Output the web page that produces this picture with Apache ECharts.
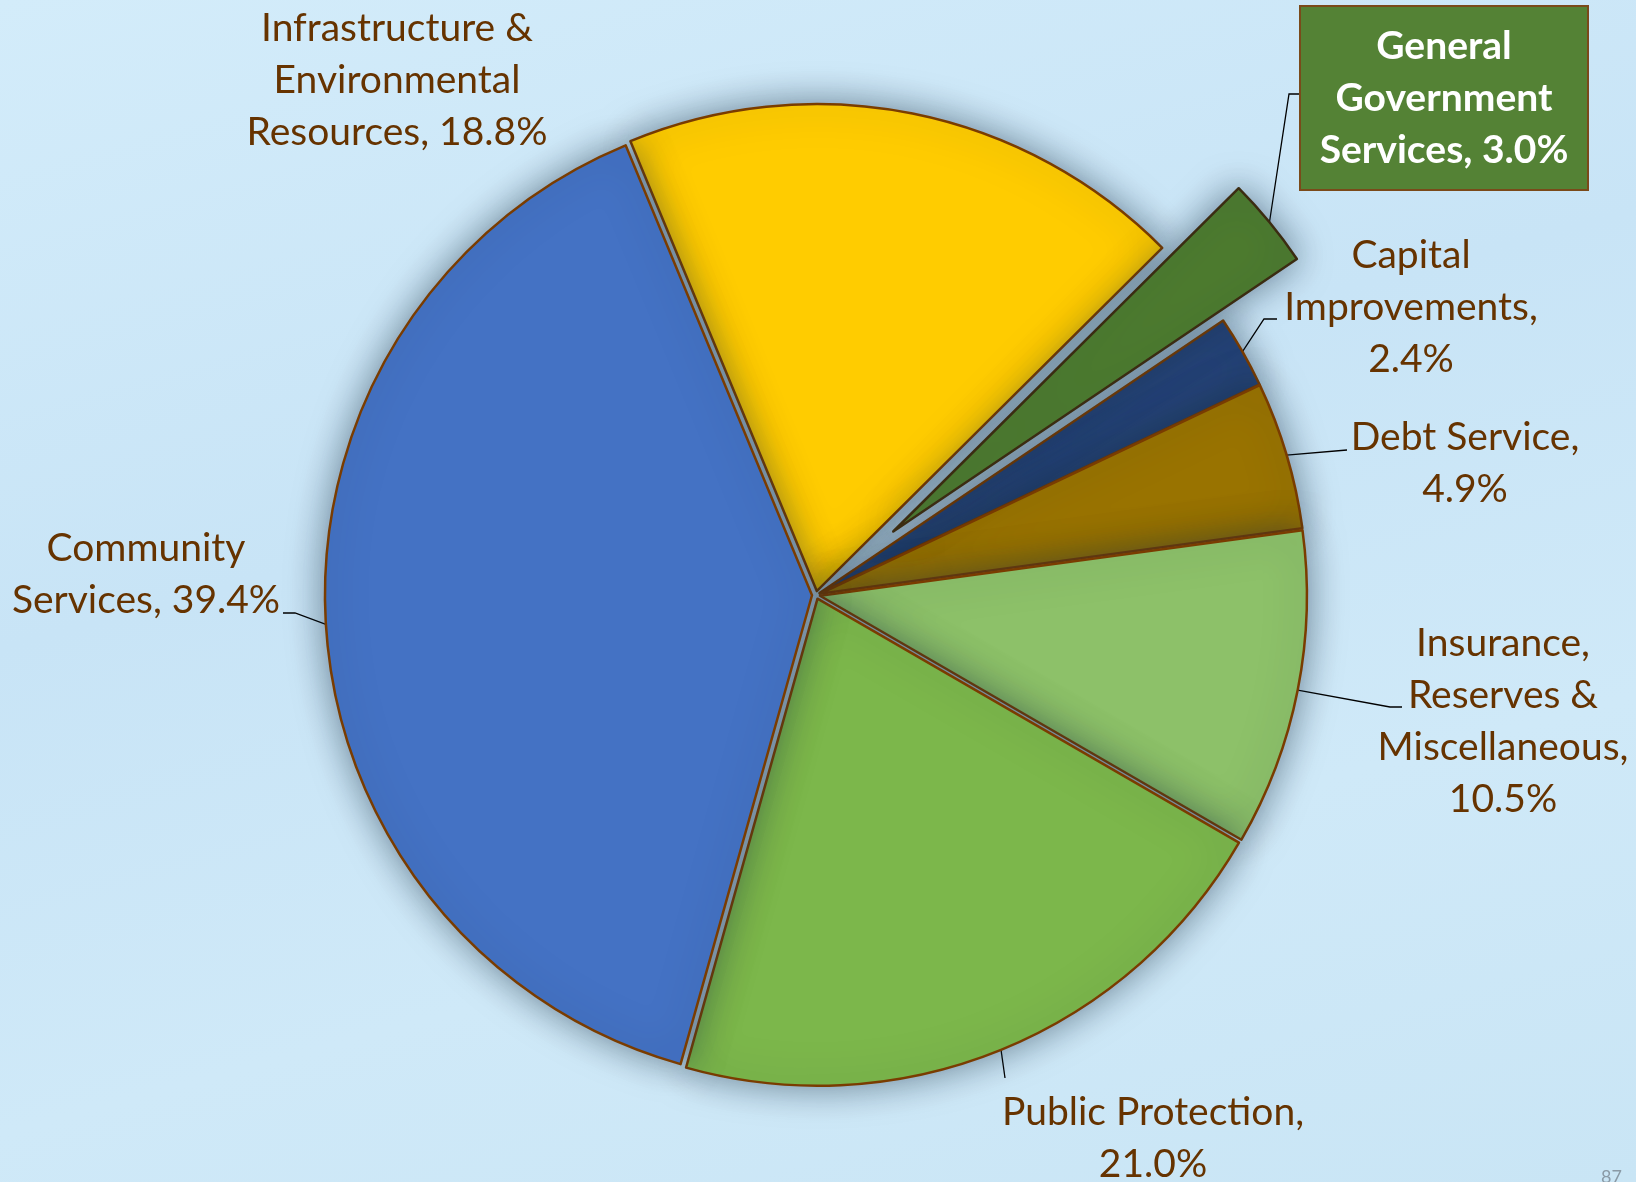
<!DOCTYPE html>
<html>
<head>
<meta charset="utf-8">
<title>Expenditures by function</title>
<script src="https://cdn.jsdelivr.net/npm/echarts@6/dist/echarts.min.js"></script>
<style>
  html, body { margin: 0; padding: 0; }
  body { background: linear-gradient(165deg, #d3ecfa 0%, #c8e4f6 40%, #cfe9f8 70%, #c9e5f5 100%); }
  #chart { width: 1636px; height: 1182px; }
</style>
</head>
<body>
<div id="chart"></div>
<script>
// data, clockwise starting at the blue / yellow border
const categories = [
  "Infrastructure & Environmental Resources",
  "General Government Services",
  "Capital Improvements",
  "Debt Service",
  "Insurance, Reserves & Miscellaneous",
  "Public Protection",
  "Community Services"
];
const shares = [18.8, 3.0, 2.4, 4.9, 10.5, 21.0, 39.4];
// how each label is broken into lines (value is appended)
const labelText = [
  "Infrastructure &\nEnvironmental\nResources, ",
  "General\nGovernment\nServices, ",
  "Capital\nImprovements,\n",
  "Debt Service,\n",
  "Insurance,\nReserves &\nMiscellaneous,\n",
  "Public Protection,\n",
  "Community\nServices, "
];
const sliceColors = ["#ffcc00", "#4d7b2f", "#264478", "#997300", "#8dc169", "#7cb74b", "#4472c4"];

// label centres and leader-line bends (px on the 1636x1182 page)
const labelSpots = [
  { x: 397, y: 80 },
  { x: 1444, y: 98, elbow: [1289, 94], end: [1301, 94] },
  { x: 1411, y: 307, elbow: [1264, 319], end: [1277, 319] },
  { x: 1465, y: 463, elbow: [1347, 450], end: [1347, 450] },
  { x: 1503, y: 721, elbow: [1390, 707], end: [1402, 707] },
  { x: 1153, y: 1138, elbow: [1005, 1078], end: [1005, 1078] },
  { x: 146, y: 574, elbow: [295, 613], end: [283, 613] }
];

const GG = 1; // the exploded slice
const PIE_CENTER = [816, 595];
const SMALL_OFFSET = 4;
const BIG_OFFSET = 100;
const brown = "#7a3c00";
const textBrown = "#663300";
const clear = "rgba(0,0,0,0)";

const chart = echarts.init(document.getElementById("chart"));

function placeLabel(params) {
  const i = params.dataIndex;
  const spot = labelSpots[i];
  const res = { x: spot.x, y: spot.y, align: "center", verticalAlign: "middle" };
  if (spot.elbow && params.labelLinePoints) {
    // push the start point out by the slice's explode offset
    const p0 = params.labelLinePoints[0];
    const dx = p0[0] - PIE_CENTER[0], dy = p0[1] - PIE_CENTER[1];
    const len = Math.sqrt(dx * dx + dy * dy) || 1;
    const shift = i === GG ? BIG_OFFSET : SMALL_OFFSET;
    const start = [p0[0] + dx / len * shift, p0[1] + dy / len * shift];
    res.labelLinePoints = [start, spot.elbow, spot.end];
  }
  return res;
}

const common = {
  type: "pie",
  center: PIE_CENTER,
  radius: 487,
  startAngle: 112.5,
  clockwise: true,
  avoidLabelOverlap: false,
  silent: true,
  emphasis: { disabled: true },
  label: { show: false },
  labelLine: { show: false },
  itemStyle: {
    borderColor: brown,
    borderWidth: 2.5,
    shadowBlur: 36,
    shadowColor: "rgba(25,45,65,0.55)"
  },
  select: { itemStyle: { borderColor: brown } }
};

// slices, each pulled out a little
const mainData = categories.map((name, i) => {
  if (i === GG) {
    return { name: name, value: shares[i],
      itemStyle: { color: clear, borderWidth: 0, shadowBlur: 0 } };
  }
  return { name: name, value: shares[i], selected: true,
    itemStyle: { color: sliceColors[i] },
    select: { itemStyle: { color: sliceColors[i], borderColor: brown } } };
});

// the exploded slice on its own
const explodedData = categories.map((name, i) => {
  if (i === GG) {
    return { name: name, value: shares[i], selected: true,
      itemStyle: { color: sliceColors[i], borderColor: "#3b2c12" },
      select: { itemStyle: { color: sliceColors[i], borderColor: "#3b2c12" } } };
  }
  return { name: name, value: shares[i],
    itemStyle: { color: clear, borderWidth: 0, shadowBlur: 0 } };
});

// invisible copy that carries the labels
const labelData = categories.map((name, i) => {
  const item = { name: name, value: shares[i],
    itemStyle: { color: clear, borderWidth: 0, shadowBlur: 0 } };
  if (i === 0) item.labelLine = { show: false };
  if (i === GG) {
    item.label = {
      color: "#ffffff",
      fontWeight: "bold",
      backgroundColor: "#548235",
      borderColor: "#7a4a1a",
      borderWidth: 2,
      padding: [13, 14],
      width: 258
    };
  }
  return item;
});

const option = {
  animation: false,
  backgroundColor: "transparent",
  series: [
    Object.assign({}, common, {
      name: "Expenditures",
      selectedMode: "multiple",
      selectedOffset: SMALL_OFFSET,
      data: mainData
    }),
    Object.assign({}, common, {
      name: "Exploded",
      selectedMode: "multiple",
      selectedOffset: BIG_OFFSET,
      data: explodedData
    }),
    Object.assign({}, common, {
      name: "Labels",
      selectedMode: false,
      itemStyle: { color: clear, borderWidth: 0 },
      labelLayout: placeLabel,
      label: {
        show: true,
        color: textBrown,
        fontFamily: "Lato",
        fontSize: 39,
        lineHeight: 52,
        align: "center",
        formatter: (p) => labelText[p.dataIndex] + p.value.toFixed(1) + "%"
      },
      labelLine: { show: true, length: 10, length2: 10, lineStyle: { color: "#000", width: 1.3 } },
      data: labelData
    })
  ],
  graphic: [{
    type: "text", right: 14, top: 1168,
    style: { text: "87", fill: "#8a9aa6", font: "18px Lato" }
  }]
};

chart.setOption(option);
</script>
</body>
</html>
